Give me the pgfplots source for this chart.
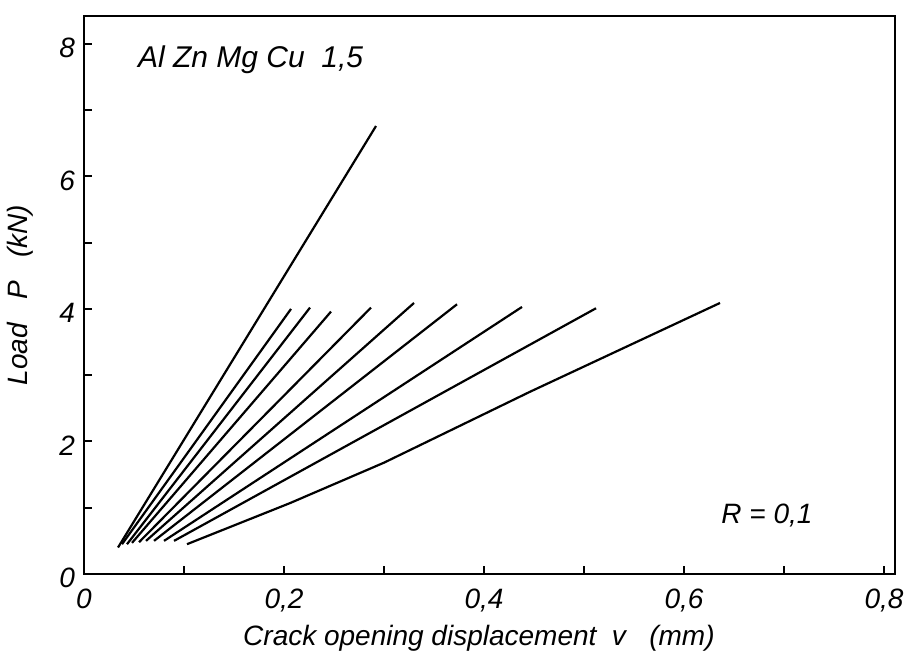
\documentclass[border=0pt]{standalone}
\usepackage{pgfplots}
\pgfplotsset{compat=1.18}
\usepackage{fontspec}
\setmainfont{Liberation Sans}
\newcommand{\chartfont}{\fontsize{14pt}{16pt}\selectfont\itshape}
\begin{document}
\begin{tikzpicture}
\begin{axis}[
  scale only axis,
  width=405.5pt, height=279pt,
  xmin=0, xmax=0.811, ymin=0, ymax=8.42,
  axis line style={line width=1.2pt},
  xtick={0,0.2,0.4,0.6,0.8},
  minor xtick={0.1,0.3,0.5,0.7},
  ytick={0,2,4,6,8},
  minor ytick={1,3,5,7},
  tick align=inside,
  major tick length=4pt, minor tick length=4pt,
  tick style={line width=1pt, black},
  xtick pos=bottom, ytick pos=left,
  xticklabel={\chartfont\pgfmathprintnumber[assume math mode=true,use comma,fixed,precision=1]{\tick}},
  yticklabel={\chartfont\pgfmathprintnumber[assume math mode=true,use comma,fixed,precision=1]{\tick}},
  xticklabel style={yshift=-4pt},
  yticklabel style={xshift=-1pt, yshift=-2pt},
  xlabel={\chartfont Crack opening displacement\ \ v\ \ \ (mm)},
  ylabel={\chartfont Load\ \ \ P\ \ \ (kN)},
  xlabel style={at={(rel axis cs:0.487,0)}, anchor=north, yshift=-22pt},
  ylabel style={at={(rel axis cs:0,0.5)}, anchor=south, yshift=22pt},
  clip=false,
  crv/.style={black, solid, line width=1.1pt, mark=none, line join=round},
]
\addplot[crv] coordinates {(0.034,0.40) (0.292,6.76)};
\addplot[crv] coordinates {(0.038,0.45) (0.207,4.00)};
\addplot[crv] coordinates {(0.043,0.45) (0.226,4.02)};
\addplot[crv] coordinates {(0.048,0.47) (0.247,3.96)};
\addplot[crv] coordinates {(0.055,0.48) (0.287,4.02)};
\addplot[crv] coordinates {(0.062,0.50) (0.330,4.09)};
\addplot[crv] coordinates {(0.070,0.50) (0.373,4.07)};
\addplot[crv] coordinates {(0.080,0.50) (0.438,4.03)};
\addplot[crv] coordinates {(0.090,0.50) (0.512,4.01)};
\addplot[crv] coordinates {(0.103,0.45) (0.206,1.07) (0.300,1.68) (0.446,2.75) (0.636,4.09)};
\node[anchor=west, font=\fontsize{15pt}{17pt}\selectfont\itshape] at (axis cs:0.047,7.76) {Al\ Zn\ Mg\ Cu\ \ 1,5};
\node[font=\chartfont] at (axis cs:0.683,0.89) {R = 0,1};
\coordinate (bl) at (rel axis cs:-0.1036,-0.154);
\coordinate (tr) at (rel axis cs:1.0222,1.0287);
\end{axis}
\pgfresetboundingbox
\path[use as bounding box] (bl) rectangle (tr);
\end{tikzpicture}
\end{document}
